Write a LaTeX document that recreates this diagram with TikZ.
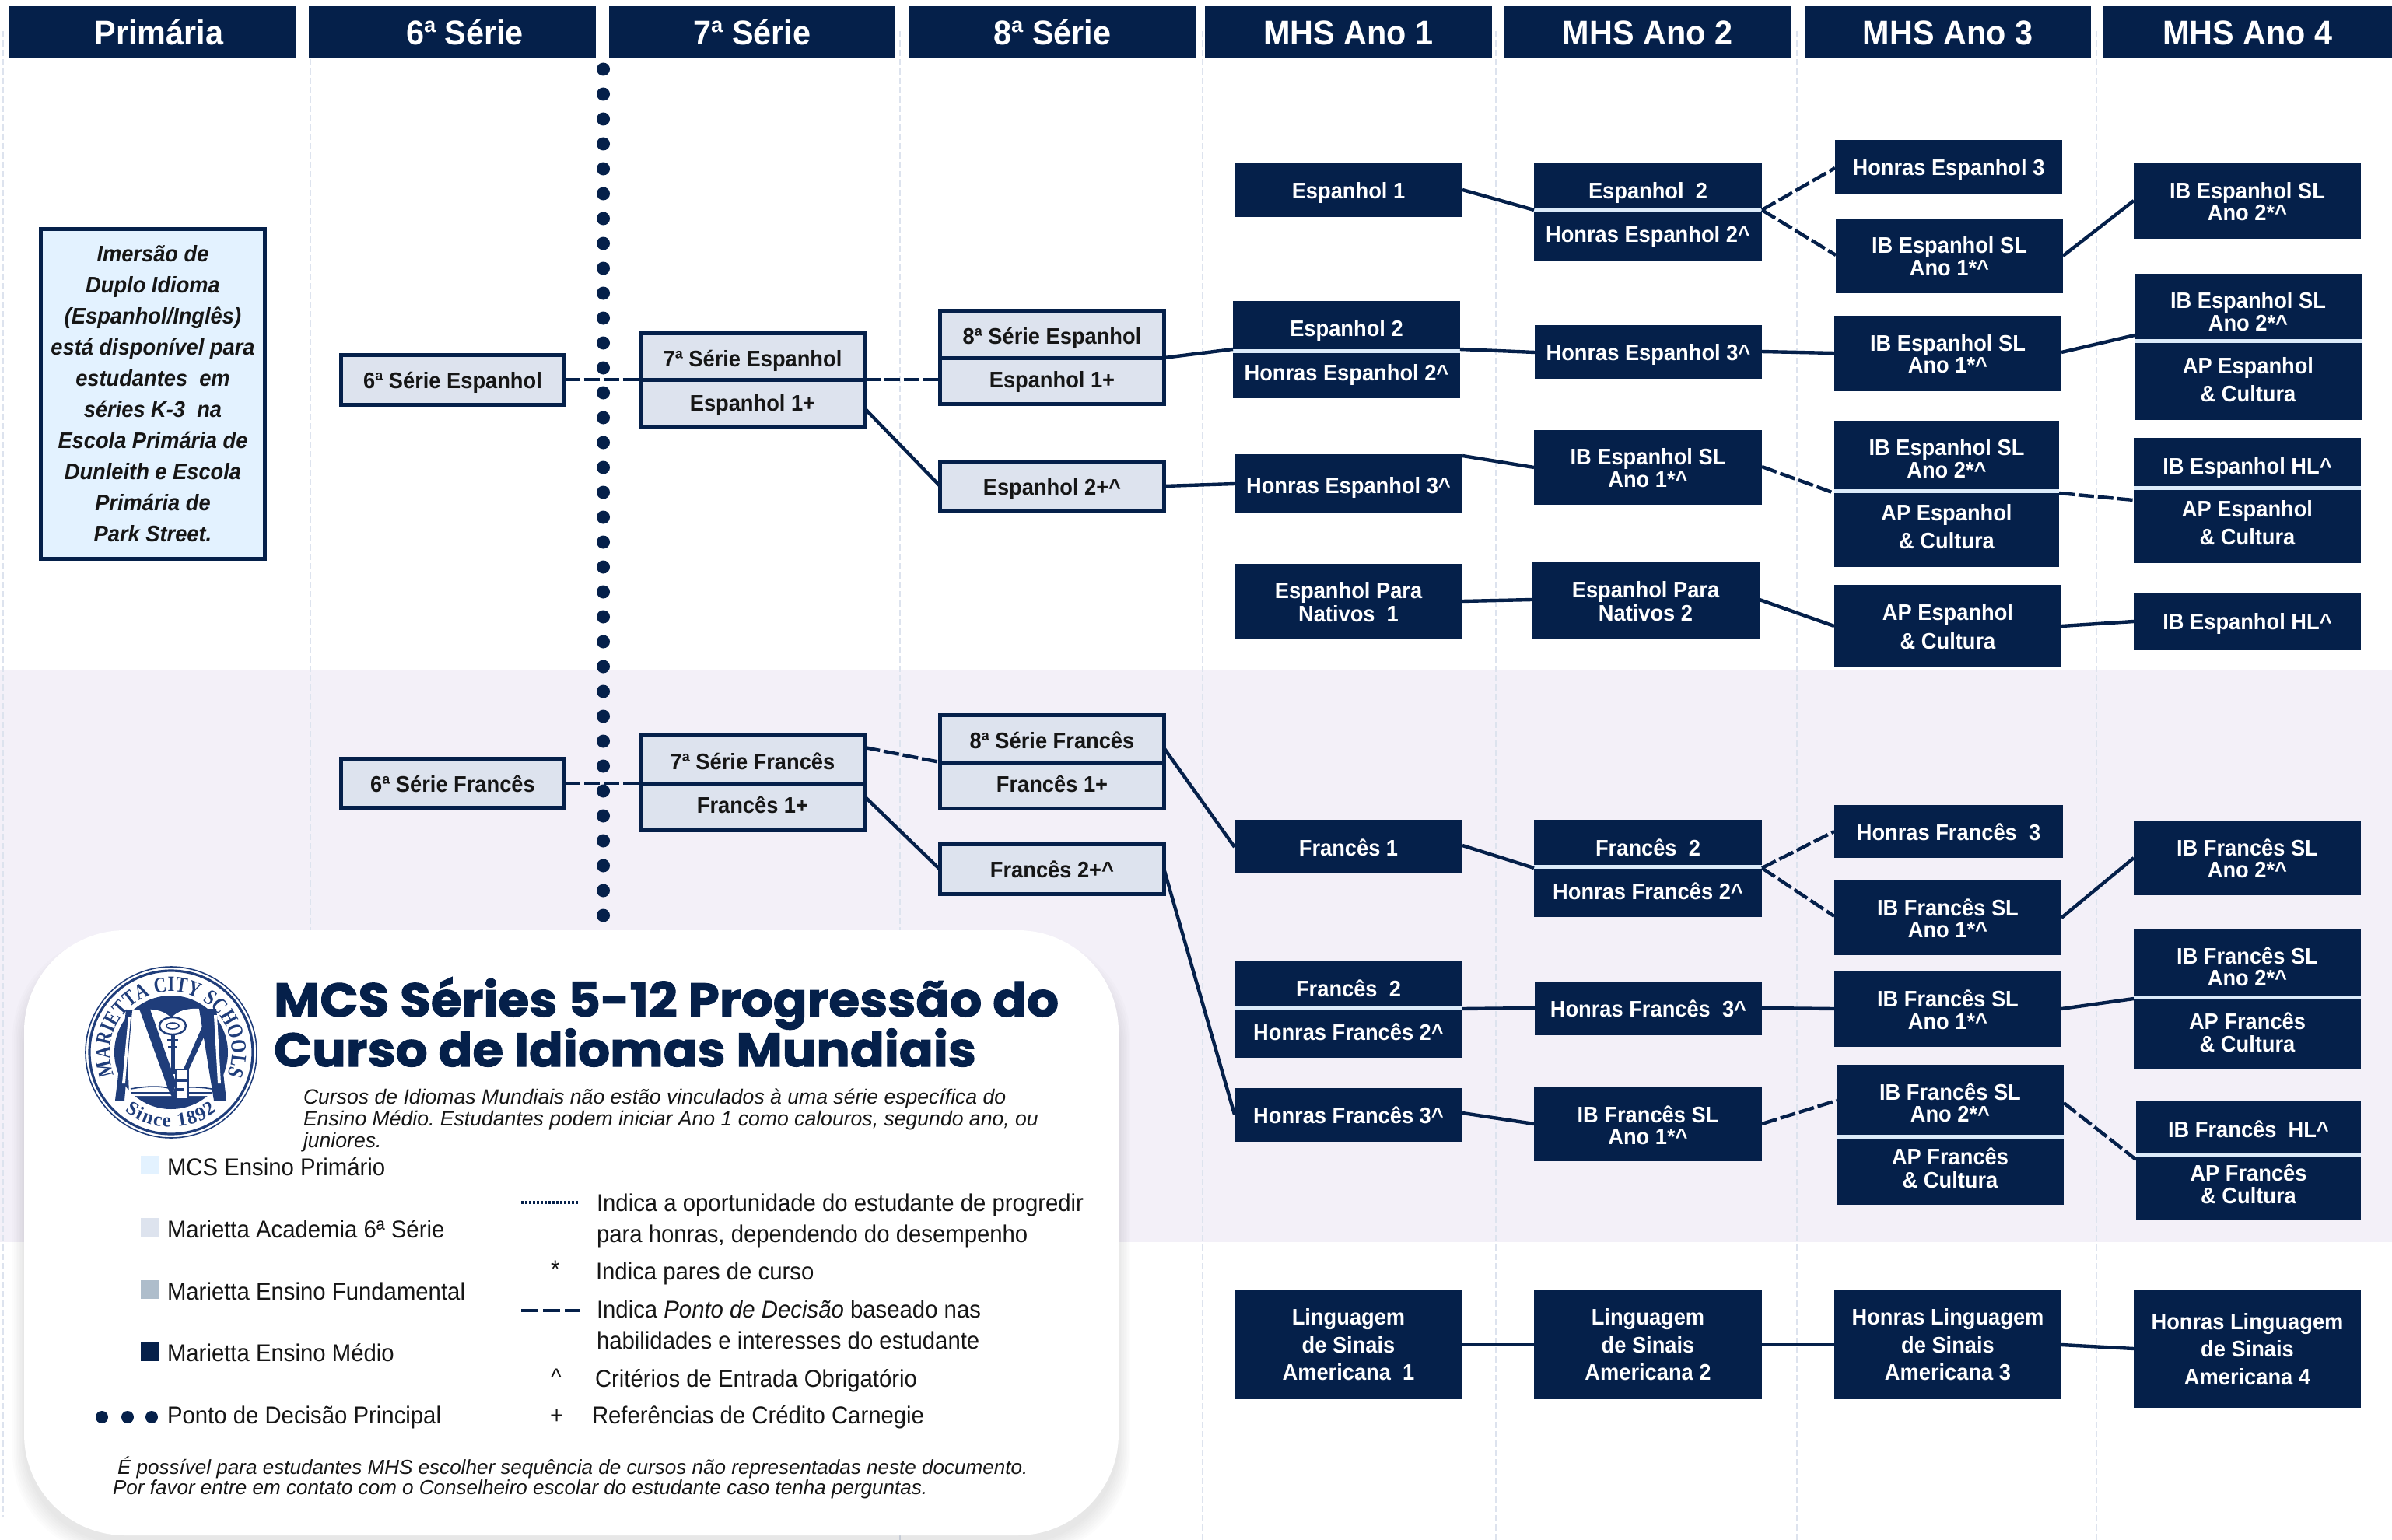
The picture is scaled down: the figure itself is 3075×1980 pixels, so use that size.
\documentclass[tikz,border=0pt]{standalone}
\usepackage{fontspec}
\usetikzlibrary{decorations.text,calc}
\newfontfamily\rb[FakeStretch=0.94]{Liberation Sans}
\newfontfamily\lib{Liberation Sans}
\newfontfamily\ttlf[FakeStretch=1.06,BoldFeatures={FakeBold=1.6}]{Poppins}
\newfontfamily\sealf[FakeStretch=0.8]{Liberation Serif}
\newfontfamily\sinf{Liberation Serif}
\definecolor{navy}{HTML}{05204A}
\definecolor{ltfill}{HTML}{DDE3EE}
\definecolor{icefill}{HTML}{E3F2FF}
\definecolor{midfill}{HTML}{AEBDCB}
\definecolor{bandc}{HTML}{F3F0F8}
\definecolor{gridc}{HTML}{DDE3EE}
\definecolor{divc}{HTML}{DCEBFA}
\definecolor{sealc}{HTML}{1F3D7A}
\definecolor{inkc}{HTML}{161616}
\newcommand\ct{\textasciicircum}
\makeatletter
\newcommand\Tx[3]{\fontsize{\f@size}{#1}\selectfont
  \raisebox{\dimexpr 0.2\baselineskip-0.358\dimexpr\f@size pt\relax-#2\dimexpr0.5pt\relax\relax}[\height][\depth]{\begin{tabular}{@{}c@{}}#3\end{tabular}}}
\makeatother
% name x1 y1 x2 y2 style lead offset text
\newcommand\bx[9]{%
  \pgfmathsetmacro\bxw{(#4-#2)*0.5}\pgfmathsetmacro\bxh{(#5-#3)*0.5}%
  \node[#6,minimum width=\bxw pt,minimum height=\bxh pt] (#1) at ({(#2+#4)/2},{(#3+#5)/2}) {\Tx{#7}{#8}{#9}};}
\tikzset{
  boxbase/.style={rectangle,inner sep=0pt,outer sep=0pt,font=\rb\bfseries\fontsize{14.5}{14}\selectfont},
  dk/.style={boxbase,fill=navy,text=white},
  lt/.style={boxbase,fill=ltfill,draw=navy,line width=2.5pt,text=inkc},
  hdr/.style={boxbase,fill=navy,text=white,font=\rb\bfseries\fontsize{22}{22}\selectfont},
  ice/.style={boxbase,fill=icefill,draw=navy,line width=2.5pt,text=inkc,font=\rb\bfseries\itshape\fontsize{14.5}{20}\selectfont},
  conn/.style={draw=navy,line width=2.2pt},
  dconn/.style={draw=navy,line width=2.2pt,dash pattern=on 10pt off 2.5pt},
  divl/.style={draw=divc,line width=2.5pt},
  grid/.style={draw=gridc,line width=1pt,dash pattern=on 4pt off 2pt},
  lg/.style={anchor=west,inner sep=0pt,outer sep=0pt,text=inkc,font=\rb\fontsize{15.6}{18}\selectfont,text height=11pt,text depth=0pt},
  desc/.style={anchor=west,inner sep=0pt,outer sep=0pt,text=inkc,font=\lib\itshape\fontsize{13.3}{14}\selectfont\frenchspacing,text height=9.5pt,text depth=0pt},
  foot/.style={desc,font=\lib\itshape\fontsize{13.03}{14}\selectfont\frenchspacing},
  sw/.style={rectangle,inner sep=0pt,outer sep=0pt,minimum width=12pt,minimum height=12pt},
  ttl/.style={anchor=west,inner sep=0pt,outer sep=0pt,text=navy,font=\ttlf\bfseries\fontsize{30.5}{30}\selectfont},
}
\begin{document}
\begin{tikzpicture}[x=0.5pt,y=-0.5pt]
\useasboundingbox (0,0) rectangle (3075,1980);
\fill[white] (0,0) rectangle (3075,1980);
\fill[bandc] (0,861) rectangle (3075,1597);
% column guides
\foreach \gx/\ge in {4/1951,399/1951,1157/1980,1546/1980,1923/1980,2310/1980,2695/1980}
  \draw[grid] (\gx,40) -- (\gx,\ge);
% headers
\bx{hA}{12}{8}{381}{75}{hdr}{22}{0}{\hspace*{8pt}Primária}
\bx{hB}{397}{8}{766}{75}{hdr}{22}{0}{\hspace*{16pt}6ª Série}
\bx{hC}{783}{8}{1151}{75}{hdr}{22}{0}{7ª Série}
\bx{hD}{1169}{8}{1537}{75}{hdr}{22}{0}{8ª Série}
\bx{hE}{1549}{8}{1918}{75}{hdr}{22}{0}{MHS Ano 1}
\bx{hF}{1934}{8}{2302}{75}{hdr}{22}{0}{MHS Ano 2}
\bx{hG}{2320}{8}{2688}{75}{hdr}{22}{0}{MHS Ano 3}
\bx{hH}{2704}{8}{3075}{75}{hdr}{22}{0}{MHS Ano 4}
% decision dots
\foreach \i in {0,...,34} \fill[navy] (775.5,{89+32*\i}) circle[radius=8.5];
% card with soft shadow
\foreach \e in {1,3,...,15}
  \fill[black,opacity=0.012,rounded corners=65pt] (31-\e,1220-\e) rectangle (1438+\e,1984+\e);
\fill[white,rounded corners=65pt] (31,1196) rectangle (1438,1974);
% immersion
\bx{imm}{52.5}{294.5}{340.5}{718.5}{ice}{20}{-0.5}{Imersão de\\Duplo Idioma\\(Espanhol/Inglês)\\está disponível para\\estudantes\ \ em\\séries K-3\ \ na\\Escola Primária de\\Dunleith e Escola\\Primária de\\Park Street.}
% light boxes
\bx{sE}{438.5}{456.5}{725.5}{520.5}{lt}{14}{0}{6ª Série Espanhol}
\bx{svEa}{823.5}{428.5}{1111.5}{488}{lt}{14}{2}{7ª Série Espanhol}
\bx{svEb}{823.5}{488}{1111.5}{548.5}{lt}{14}{-1}{Espanhol 1+}
\bx{etEa}{1208.5}{399.5}{1496.5}{460}{lt}{14}{2}{8ª Série Espanhol}
\bx{etEb}{1208.5}{460}{1496.5}{519.5}{lt}{14}{-2}{Espanhol 1+}
\bx{etEc}{1208.5}{593.5}{1496.5}{657.5}{lt}{14}{0}{Espanhol 2+\ct}
\bx{sF}{438.5}{975}{725.5}{1038.5}{lt}{14}{0}{6ª Série Francês}
\bx{svFa}{823.5}{945.5}{1111.5}{1007}{lt}{14}{2}{7ª Série Francês}
\bx{svFb}{823.5}{1007}{1111.5}{1067.5}{lt}{14}{-3}{Francês 1+}
\bx{etFa}{1208.5}{919.5}{1496.5}{980}{lt}{14}{1}{8ª Série Francês}
\bx{etFb}{1208.5}{980}{1496.5}{1039.5}{lt}{14}{-3}{Francês 1+}
\bx{etFc}{1208.5}{1085.5}{1496.5}{1149.5}{lt}{14}{0}{Francês 2+\ct}
% Spanish dark boxes
\bx{a1}{1587}{210}{1880}{279}{dk}{14}{0}{Espanhol 1}
\bx{a2}{1972}{210}{2265}{270}{dk}{14}{4}{Espanhol\ \ 2}
\bx{a2b}{1972}{270}{2265}{335}{dk}{14}{-2}{Honras Espanhol 2\ct}
\bx{a3}{2359}{180}{2651}{249}{dk}{14}{0}{Honras Espanhol 3}
\bx{a3b}{2360}{281}{2652}{377}{dk}{14}{0}{IB Espanhol SL\\Ano 1*\ct}
\bx{a4}{2743}{210}{3035}{307}{dk}{14}{0}{IB Espanhol SL\\Ano 2*\ct}
\bx{b1}{1585}{387}{1877}{451}{dk}{14}{2}{Espanhol 2}
\bx{b1b}{1585}{451}{1877}{512}{dk}{14}{-3}{Honras Espanhol 2\ct}
\bx{b2}{1973}{418}{2265}{487}{dk}{14}{0}{Honras Espanhol 3\ct}
\bx{b3}{2358}{406}{2650}{503}{dk}{14}{0}{IB Espanhol SL\\Ano 1*\ct}
\bx{b4}{2744}{352}{3036}{438}{dk}{14}{5}{IB Espanhol SL\\Ano 2*\ct}
\bx{b4b}{2744}{438}{3036}{540}{dk}{18}{-1}{AP Espanhol\\\& Cultura}
\bx{c1}{1587}{584}{1880}{660}{dk}{14}{1}{Honras Espanhol 3\ct}
\bx{c2}{1972}{553}{2265}{649}{dk}{14}{0}{IB Espanhol SL\\Ano 1*\ct}
\bx{c3}{2358}{541}{2647}{631}{dk}{14}{3}{IB Espanhol SL\\Ano 2*\ct}
\bx{c3b}{2358}{631}{2647}{729}{dk}{18}{-3}{AP Espanhol\\\& Cultura}
\bx{c4}{2743}{563}{3035}{627}{dk}{14}{3}{IB Espanhol HL\ct}
\bx{c4b}{2743}{627}{3035}{724}{dk}{18}{-3.5}{AP Espanhol\\\& Cultura}
\bx{d1}{1587}{725}{1880}{822}{dk}{14}{0}{Espanhol Para\\Nativos\ \ 1}
\bx{d2}{1969}{723}{2262}{822}{dk}{14}{0}{Espanhol Para\\Nativos 2}
\bx{d3}{2358}{752}{2650}{857}{dk}{18.5}{1}{AP Espanhol\\\& Cultura}
\bx{d4}{2743}{763}{3035}{836}{dk}{14}{-1}{IB Espanhol HL\ct}
% French dark boxes
\bx{e1}{1587}{1054}{1880}{1123}{dk}{14}{1}{Francês 1}
\bx{e2}{1972}{1054}{2265}{1114}{dk}{14}{5}{Francês\ \ 2}
\bx{e2b}{1972}{1114}{2265}{1179}{dk}{14}{-1.5}{Honras Francês 2\ct}
\bx{e3}{2358}{1035}{2652}{1103}{dk}{14}{0}{Honras Francês\ \ 3}
\bx{e3b}{2358}{1132}{2650}{1228}{dk}{14}{0}{IB Francês SL\\Ano 1*\ct}
\bx{e4}{2743}{1055}{3035}{1151}{dk}{14}{0}{IB Francês SL\\Ano 2*\ct}
\bx{g1}{1587}{1235}{1880}{1296}{dk}{14}{4.5}{Francês\ \ 2}
\bx{g1b}{1587}{1296}{1880}{1360}{dk}{14}{-2}{Honras Francês 2\ct}
\bx{g2}{1973}{1262}{2265}{1331}{dk}{14}{0}{Honras Francês\ \ 3\ct}
\bx{g3}{2358}{1249}{2650}{1346}{dk}{14}{0}{IB Francês SL\\Ano 1*\ct}
\bx{g4}{2743}{1194}{3035}{1282}{dk}{14}{4}{IB Francês SL\\Ano 2*\ct}
\bx{g4b}{2743}{1282}{3035}{1374}{dk}{14}{-1.5}{AP Francês\\\& Cultura}
\bx{k1}{1587}{1399}{1880}{1468}{dk}{14}{0}{Honras Francês 3\ct}
\bx{k2}{1972}{1397}{2265}{1493}{dk}{14}{1}{IB Francês SL\\Ano 1*\ct}
\bx{k3}{2361}{1369}{2653}{1461}{dk}{14}{2}{IB Francês SL\\Ano 2*\ct}
\bx{k3b}{2361}{1461}{2653}{1549}{dk}{14}{-4}{AP Francês\\\& Cultura}
\bx{k4}{2746}{1416}{3035}{1484}{dk}{14}{1}{IB Francês\ \ HL\ct}
\bx{k4b}{2746}{1484}{3035}{1569}{dk}{14}{-5}{AP Francês\\\& Cultura}
% ASL
\bx{m1}{1587}{1659}{1880}{1799}{dk}{17.75}{0}{Linguagem\\de Sinais\\Americana\ \ 1}
\bx{m2}{1972}{1659}{2265}{1799}{dk}{17.75}{0}{Linguagem\\de Sinais\\Americana 2}
\bx{m3}{2358}{1659}{2650}{1799}{dk}{17.75}{0}{Honras Linguagem\\de Sinais\\Americana 3}
\bx{m4}{2743}{1659}{3035}{1810}{dk}{17.75}{0}{Honras Linguagem\\de Sinais\\Americana 4}
% dividers
\foreach \n in {a2,b1,b4,c3,c4,e2,g1,g4,k3,k4}
  \draw[divl] (\n.south west) -- (\n.south east);
% connectors, mid grades
\draw[dconn] (sE.east |- 0,488) -- (svEa.west |- 0,488);
\draw[dconn] (svEb.east |- 0,488) -- (etEa.west |- 0,488);
\draw[conn] (svEb.east |- 0,525) -- (etEc.west |- 0,625);
\draw[dconn] (sF.east |- 0,1007) -- (svFa.west |- 0,1007);
\draw[dconn] (svFa.east |- 0,961) -- (etFa.west |- 0,980);
\draw[conn] (svFb.east |- 0,1024) -- (etFc.west |- 0,1118);
\draw[conn] (etEa.east |- 0,460) -- (b1.west |- 0,449);
\draw[conn] (etEc.east |- 0,625) -- (c1.west |- 0,622);
\draw[conn] (etFa.east |- 0,962) -- (e1.west |- 0,1089);
\draw[conn] (etFc.east |- 0,1118) -- (k1.west |- 0,1433);
% connectors, Spanish
\draw[conn] (a1.east |- 0,244) -- (a2.west |- 0,270);
\draw[dconn] (a2.east |- 0,270) -- (a3.west |- 0,216);
\draw[dconn] (a2.east |- 0,270) -- (a3b.west |- 0,328);
\draw[conn] (a3b.east |- 0,329) -- (a4.west |- 0,258);
\draw[conn] (b1.east |- 0,449) -- (b2.west |- 0,453);
\draw[conn] (b2.east |- 0,452) -- (b3.west |- 0,454);
\draw[conn] (b3.east |- 0,453) -- (b4.west |- 0,431);
\draw[conn] (c1.east |- 0,586) -- (c2.west |- 0,601);
\draw[dconn] (c2.east |- 0,600) -- (c3.west |- 0,634);
\draw[dconn] (c3.east |- 0,634) -- (c4.west |- 0,643);
\draw[conn] (d1.east |- 0,773) -- (d2.west |- 0,771);
\draw[conn] (d2.east |- 0,771) -- (d3.west |- 0,805);
\draw[conn] (d3.east |- 0,805) -- (d4.west |- 0,799);
% connectors, French
\draw[conn] (e1.east |- 0,1087) -- (e2.west |- 0,1116);
\draw[dconn] (e2.east |- 0,1116) -- (e3.west |- 0,1069);
\draw[dconn] (e2.east |- 0,1116) -- (e3b.west |- 0,1178);
\draw[conn] (e3b.east |- 0,1180) -- (e4.west |- 0,1103);
\draw[conn] (g1.east |- 0,1297) -- (g2.west |- 0,1296);
\draw[conn] (g2.east |- 0,1296) -- (g3.west |- 0,1297);
\draw[conn] (g3.east |- 0,1297) -- (g4.west |- 0,1284);
\draw[conn] (k1.east |- 0,1431) -- (k2.west |- 0,1445);
\draw[dconn] (k2.east |- 0,1445) -- (k3.west |- 0,1415);
\draw[dconn] (k3.east |- 0,1418) -- (k4.west |- 0,1491);
\draw[conn] (m1.east |- 0,1729) -- (m2.west |- 0,1729);
\draw[conn] (m2.east |- 0,1729) -- (m3.west |- 0,1729);
\draw[conn] (m3.east |- 0,1729) -- (m4.west |- 0,1734);
% seal
\begin{scope}[shift={(220,1353)},x=0.5pt,y=0.5pt,sealc]
  \draw[line width=0.8pt] (0,0) circle[radius=110];
  \draw[line width=1.6pt] (0,0) circle[radius=105];
  \fill (0,0) circle[radius=73];
  \fill[white] (-58,52) .. controls (-30,58) and (-10,56) .. (0,44) .. controls (10,56) and (30,60) .. (58,52) -- (54,-56) -- (-54,-56) -- cycle;
  \fill (-41,56) -- (-28,58) -- (6,-38) -- (2,-58) -- (-2,-52) -- cycle;
  \fill (43,40) -- (47,30) -- (6,-58) -- (0,-58) -- cycle;
  \fill (-58,54) -- (-50,54) -- (-60,-62) -- (-72,-62) -- cycle;
  \fill (36,56) -- (58,56) -- (71,-62) -- (55,-62) -- cycle;
  \fill[white] (-55,46) -- (-52,46) -- (-59,-40) -- (-63,-40) -- cycle;
  \fill[white] (55,48) -- (59,48) -- (64,-40) -- (60,-40) -- cycle;
  \draw[line width=1pt] (-52,-52) -- (52,-52);
  \draw[line width=0.8pt] (-52,-47) .. controls (-25,-42) and (-5,-44) .. (2,-48) .. controls (15,-44) and (35,-44) .. (52,-47);
  \draw[line width=1.2pt] (2,34) ellipse[x radius=17,y radius=11];
  \draw[line width=0.8pt] (2,34) ellipse[x radius=8,y radius=4];
  \draw[line width=2.5pt] (2,22) -- (2,-28);
  \fill (-5,17) rectangle (9,14);
  \fill (-4,8) rectangle (8,5);
  \fill[white,draw=sealc,line width=0.8pt] (6,-22) rectangle (22,-60);
  \fill (6,-34) rectangle (20,-38);
  \fill (6,-46) rectangle (16,-50);
  \path[decorate,decoration={text along path,text align={fit to path},text color=sealc,text={|\sealf\bfseries\fontsize{14}{14}\selectfont|MARIETTA CITY SCHOOLS}}]
    (202:78) arc[start angle=202,end angle=-22,radius=78];
  \path[decorate,decoration={text along path,text align={fit to path},text color=sealc,text={|\sinf\bfseries\fontsize{12.5}{14}\selectfont|Since 1892}}]
    (232:96) arc[start angle=232,end angle=308,radius=96];
\end{scope}
% title
\node[ttl] (t1) at (352,1290) {MCS Séries 5-12 Progressão do};
\node[ttl] (t2) at (352,1347) {Curso de Idiomas Mundiais};
\node[desc] (p1) at (390,1410) {Cursos de Idiomas Mundiais não estão vinculados à uma série específica do};
\node[desc] (p2) at (390,1438) {Ensino Médio. Estudantes podem iniciar Ano 1 como calouros, segundo ano, ou};
\node[desc] (p3) at (390,1466) {juniores.};
% legend left
\node[sw,fill=icefill] (s1) at (193,1498) {};
\node[sw,fill=ltfill] (s2) at (193,1578) {};
\node[sw,fill=midfill] (s3) at (193,1658) {};
\node[sw,fill=navy] (s4) at (193,1738) {};
\node[lg] (l1) at (215,1500) {MCS Ensino Primário};
\node[lg] (l2) at (215,1580) {Marietta Academia 6ª Série};
\node[lg] (l3) at (215,1660) {Marietta Ensino Fundamental};
\node[lg] (l4) at (215,1739) {Marietta Ensino Médio};
\foreach \dx in {131,164,195} \fill[navy] (\dx,1822) circle[radius=8];
\node[lg] (l5) at (215,1819) {Ponto de Decisão Principal};
% legend right
\coordinate (ld1) at (670,1546); \coordinate (ld2) at (746,1546);
\draw[navy,line width=2pt,dash pattern=on 1.5pt off 1pt] (ld1) -- (ld2);
\node[lg] (r1) at (767,1546) {Indica a oportunidade do estudante de progredir};
\node[lg] (r2) at (767,1586) {para honras, dependendo do desempenho};
\node[lg] (r3s) at (708,1631) {*};
\node[lg] (r3) at (766,1634) {Indica pares de curso};
\coordinate (ld3) at (670,1685); \coordinate (ld4) at (746,1685);
\draw[navy,line width=2pt,dash pattern=on 11pt off 3pt] (ld3) -- (ld4);
\node[lg] (r4) at (767,1683) {Indica \textit{Ponto de Decisão} baseado nas};
\node[lg] (r5) at (767,1723) {habilidades e interesses do estudante};
\node[lg] (r6s) at (708,1770) {\ct};
\node[lg] (r6) at (765,1772) {Critérios de Entrada Obrigatório};
\node[lg] (r7s) at (707,1819) {+};
\node[lg] (r7) at (761,1819) {Referências de Crédito Carnegie};
% footer
\node[foot] (f1) at (151,1886) {É possível para estudantes MHS escolher sequência de cursos não representadas neste documento.};
\node[foot] (f2) at (145,1912) {Por favor entre em contato com o Conselheiro escolar do estudante caso tenha perguntas.};
\end{tikzpicture}
\end{document}
